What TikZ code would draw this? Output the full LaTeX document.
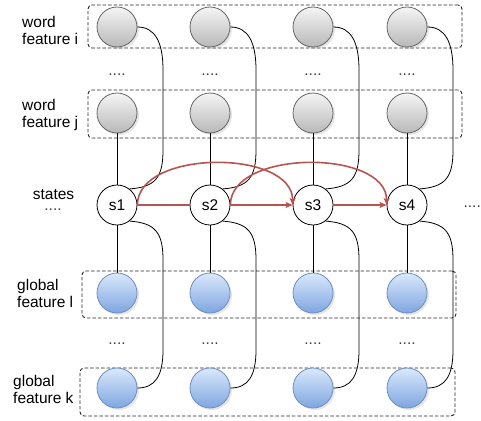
\documentclass[tikz,border=0pt]{standalone}
\usepackage{fontspec}
\setmainfont{Liberation Sans}
\usetikzlibrary{arrows.meta,shadows,calc}
\definecolor{redc}{HTML}{B85450}
\definecolor{gborder}{HTML}{666666}
\definecolor{gtop}{HTML}{F5F5F5}
\definecolor{gbot}{HTML}{B8B8B8}
\definecolor{btop}{HTML}{DAE8FC}
\definecolor{bbot}{HTML}{7EA6E0}
\definecolor{bborder}{HTML}{6C8EBF}
\begin{document}
\begin{tikzpicture}[x=1pt,y=-1pt,
  txt/.style={font=\fontsize{15.5}{17}\selectfont, inner sep=0pt},
  lbl/.style={txt, align=left, anchor=west},
  dots/.style={txt, text=black!75},
  dashbox/.style={draw=black!85, dash pattern=on 3.5pt off 2pt, line width=0.9pt, rounded corners=4pt, inner sep=0pt},
  gnode/.style={circle, draw=gborder, line width=0.8pt, minimum size=40pt, inner sep=0pt, top color=gtop, bottom color=gbot,
     drop shadow={shadow xshift=2pt, shadow yshift=-2pt, opacity=0.25, fill=black!40}},
  bnode/.style={circle, draw=bborder, line width=0.8pt, minimum size=40pt, inner sep=0pt, top color=btop, bottom color=bbot,
     drop shadow={shadow xshift=2pt, shadow yshift=-2pt, opacity=0.25, fill=black!40}},
  snode/.style={circle, draw=black, line width=0.8pt, fill=white, minimum size=40pt, inner sep=0pt, txt},
  conn/.style={draw=black, line width=0.8pt},
  redline/.style={draw=redc, line width=1.6pt},
  redarrow/.style={redline, -{Stealth[length=7pt,width=6pt,inset=1.5pt]}}
]
\useasboundingbox (0,0) rectangle (481,420);

% dashed group boxes
\node[dashbox, minimum width=374pt, minimum height=43pt] (boxi) at (275,26.5) {};
\node[dashbox, minimum width=374pt, minimum height=48pt] (boxj) at (275,114) {};
\node[dashbox, minimum width=374pt, minimum height=47pt] (boxl) at (269,294.5) {};
\node[dashbox, minimum width=375pt, minimum height=48pt] (boxk) at (267.5,392) {};

% labels
\node[lbl] (lwi) at (22,30.5) {word\\feature i};
\node[lbl] (lwj) at (22,114.5) {word\\feature j};
\node[txt] (lst) at (53.5,194.5) {states};
\node[dots] (lstd) at (53,210) {....};
\node[lbl] (lgl) at (17,293.5) {global\\feature l};
\node[lbl] (lgk) at (13,389) {global\\feature k};
\node[dots, anchor=east] (rdots) at (481,207) {....};

% nodes
\foreach \i/\X in {1/117,2/210,3/313,4/407}{
  \node[gnode] (t\i) at (\X,27) {};
  \node[gnode] (w\i) at (\X,113) {};
  \node[snode] (s\i) at (\X,205) {s\i};
  \node[bnode] (l\i) at (\X,293) {};
  \node[bnode] (k\i) at (\X,388) {};
  \node[dots] (du\i) at (\X,75) {....};
  \node[dots] (dd\i) at (\X,344) {....};
}

% connectors
\foreach \i/\X in {1/117,2/210,3/313,4/407}{
  \draw[conn] (w\i) -- (s\i);
  \draw[conn] (s\i) -- (l\i);
  \draw[conn] (t\i.east) .. controls (\X+38,27) and (\X+46,42) .. (\X+46,70)
      -- (\X+46,150) .. controls (\X+46,178) and (\X+38,187) .. (s\i.52);
  \draw[conn] (s\i.-52) .. controls (\X+38,223) and (\X+46,232) .. (\X+46,260)
      -- (\X+46,350) .. controls (\X+46,376) and (\X+38,388) .. (k\i.east);
}

% red transitions
\draw[redline] (s1) -- (s2);
\draw[redarrow] (s2) -- (s3);
\draw[redarrow] (s3) -- (s4);
\draw[redarrow] (s1.east) .. controls +(0,-56) and +(0,-56) .. (s3.west);
\draw[redarrow] (s2.east) .. controls +(0,-56) and +(0,-56) .. (s4.west);
\end{tikzpicture}
\end{document}
